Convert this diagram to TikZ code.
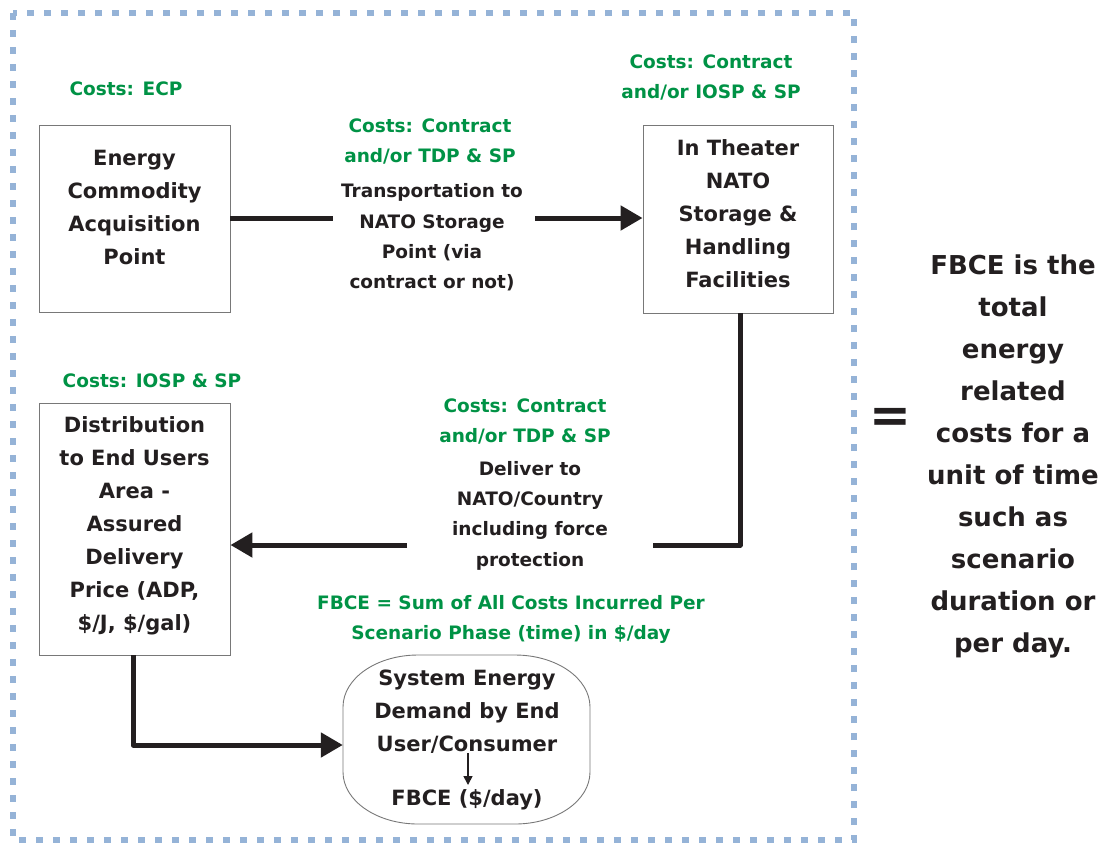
\documentclass[tikz,border=0pt]{standalone}
\usepackage{fontspec}
\setmainfont{DejaVu Sans}
\usetikzlibrary{arrows.meta}
\definecolor{cgreen}{RGB}{0,146,69}
\definecolor{cblue}{RGB}{149,179,215}
\definecolor{cblack}{RGB}{35,31,32}
\definecolor{cgray}{RGB}{120,120,120}
\begin{document}
\begin{tikzpicture}[x=1pt,y=-1pt,
  boxnode/.style={draw=cgray, line width=0.9pt, inner sep=0pt, align=center,
    text=cblack, font=\bfseries\fontsize{21}{33}\selectfont},
  plaintext/.style={inner sep=0pt, align=center, text=cblack, font=\bfseries\fontsize{21}{33}\selectfont},
  greentext/.style={inner sep=0pt, align=center, text=cgreen, font=\bfseries\fontsize{18.5}{30}\selectfont},
  midtext/.style={inner sep=0pt, align=center, text=cblack, font=\bfseries\fontsize{18.5}{30.3}\selectfont},
  flowline/.style={line width=5pt, draw=cblack, line join=round},
  flowarrow/.style={flowline, -{Triangle[length=22pt,width=24pt]}}
]
\useasboundingbox (0,0) rectangle (1105,844);
% dotted frame
\draw[cblue, line width=6pt, dash pattern=on 7pt off 10pt] (13,13) rectangle (854,840);

% boxes
\node[boxnode, minimum width=191pt, minimum height=187pt] (b1) at (134.5,218.5) {};
\node[plaintext] (t1) at (134.5,207) {Energy\\Commodity\\Acquisition\\Point};
\node[boxnode, minimum width=190pt, minimum height=188pt] (b2) at (738,219) {};
\node[plaintext] (t2) at (738,214) {In Theater\\NATO\\Storage \&\\Handling\\Facilities};
\node[boxnode, minimum width=191pt, minimum height=252pt] (b3) at (134.5,529) {};
\node[plaintext] (t3) at (134.5,526) {Distribution\\to End Users\\Area -\\Assured\\Delivery\\Price (ADP,\\\$/J, \$/gal)};

% rounded end-user shape (elliptical corners)
\node[minimum width=247pt, minimum height=169pt, inner sep=0pt] (e) at (466.5,739.5) {};
\draw[cgray, line width=0.9pt]
  (418,655) -- (515,655)
  .. controls (556.4,655) and (590,678.3) .. (590,707)
  -- (590,772)
  .. controls (590,800.7) and (556.4,824) .. (515,824)
  -- (418,824)
  .. controls (376.6,824) and (343,800.7) .. (343,772)
  -- (343,707)
  .. controls (343,678.3) and (376.6,655) .. (418,655) -- cycle;
\node[plaintext] (s1) at (467,712) {System Energy\\Demand by End\\User/Consumer};
\node[plaintext] (s2) at (467,800) {FBCE (\$/day)};

% green cost labels
\node[greentext] (c1) at (126,89) {Costs: ECP};
\node[greentext] (c2) at (430,141) {Costs: Contract\\and/or TDP \& SP};
\node[greentext] (c3) at (711,77) {Costs: Contract\\and/or IOSP \& SP};
\node[greentext] (c4) at (152,381) {Costs: IOSP \& SP};
\node[greentext] (c5) at (525,421) {Costs: Contract\\and/or TDP \& SP};
\node[greentext] (c6) at (511,619) {FBCE = Sum of All Costs Incurred Per\\Scenario Phase (time) in \$/day};

% middle texts
\node[midtext] (m1) at (432,237.5) {Transportation to\\NATO Storage\\Point (via\\contract or not)};
\node[midtext] (m2) at (530,515.5) {Deliver to\\NATO/Country\\including force\\protection};

% connectors
\coordinate (g1a) at (333,218);
\coordinate (g1b) at (535,218);
\draw[flowline] (b1.east |- g1a) -- (g1a);
\draw[flowarrow] (g1b) -- (b2.west |- g1b);

\coordinate (k2) at (740,545);
\coordinate (g2a) at (653,545);
\coordinate (g2b) at (407,545);
\draw[flowline] (b2.south -| k2) -- (k2) -- (g2a);
\draw[flowarrow] (g2b) -- (b3.east |- g2b);

\coordinate (k3) at (133,745);
\draw[flowarrow] (b3.south -| k3) -- (k3) -- (e.west |- k3);

\coordinate (sa) at (468,753);
\coordinate (sb) at (468,785);
\draw[cblack, line width=1.6pt, -{Triangle[length=9pt,width=9pt]}] (sa) -- (sb);

% equals and conclusion
\node[inner sep=0pt, text=cblack, font=\bfseries\fontsize{50}{50}\selectfont, anchor=base] (eq) at (890.5,432) {=};
\node[inner sep=0pt, align=center, text=cblack, font=\bfseries\fontsize{26}{42}\selectfont] (r) at (1013,456) {FBCE is the\\total\\energy\\related\\costs for a\\unit of time\\such as\\scenario\\duration or\\per day.};
\end{tikzpicture}
\end{document}
